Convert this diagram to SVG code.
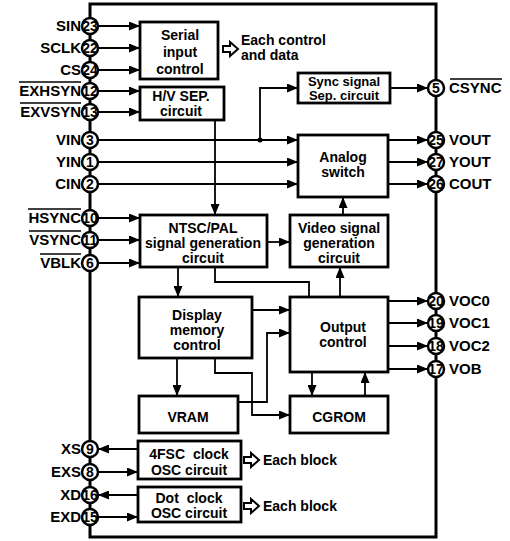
<svg xmlns="http://www.w3.org/2000/svg" width="510" height="541" viewBox="0 0 510 541">
<defs>
<marker id="ah" markerUnits="userSpaceOnUse" markerWidth="12" markerHeight="9" refX="11" refY="4.5" orient="auto">
<path d="M0,0 L11,4.5 L0,9 Z" fill="#000"/>
</marker>
<path id="hollow" d="M0,-3 H7 V-7 L15,0 L7,7 V3 H0 Z"/>
</defs>
<style>
text{font-family:"Liberation Sans",Arial,sans-serif;font-weight:bold;font-size:14px;fill:#000}
.box{fill:#fff;stroke:#000;stroke-width:2.8}
.c{fill:none;stroke:#000;stroke-width:1.8}
.a{marker-end:url(#ah)}
.pin{fill:#fff;stroke:#000;stroke-width:2.5}
.num{font-size:14px;text-anchor:middle}
.m{text-anchor:middle}
.pl{font-size:15px}
.l{text-anchor:end}
.ov{stroke:#000;stroke-width:1.5}
.hol{fill:#fff;stroke:#000;stroke-width:2}
.frame{fill:none;stroke:#000;stroke-width:3}
</style>
<rect class="frame" x="90" y="4" width="346" height="533"/>
<g id="connectors">
<path class="c a" d="M98,26H140"/>
<path class="c a" d="M98,48H140"/>
<path class="c a" d="M98,70H140"/>
<path class="c a" d="M98,91H140"/>
<path class="c a" d="M98,112H140"/>
<path class="c a" d="M215,120V215"/>
<path class="c a" d="M98,140H298"/>
<path class="c a" d="M260,140V88H298"/>
<circle cx="260" cy="140" r="2.5" fill="#000"/>
<path class="c a" d="M98,162H298"/>
<path class="c a" d="M98,184H298"/>
<path class="c a" d="M390,88H428"/>
<path class="c a" d="M388,140H428"/>
<path class="c a" d="M388,162H428"/>
<path class="c a" d="M388,184H428"/>
<path class="c a" d="M343,215V197"/>
<path class="c a" d="M98,218H140"/>
<path class="c a" d="M98,240H140"/>
<path class="c a" d="M98,263H140"/>
<path class="c a" d="M267,242H290"/>
<path class="c a" d="M178,267V297"/>
<path class="c" d="M215,267V282H309V297"/>
<path class="c a" d="M340,297V267"/>
<path class="c a" d="M252,310H290"/>
<path class="c a" d="M177,358V396"/>
<path class="c a" d="M215,358V373H252V415H290"/>
<path class="c a" d="M238,402H267V333H290"/>
<path class="c a" d="M312,372V396"/>
<path class="c a" d="M365,396V372"/>
<path class="c a" d="M388,301H428"/>
<path class="c a" d="M388,323H428"/>
<path class="c a" d="M388,346H428"/>
<path class="c a" d="M388,369H428"/>
<path class="c a" d="M138,449H98"/>
<path class="c a" d="M98,472H138"/>
<path class="c a" d="M138,495H98"/>
<path class="c a" d="M98,517H138"/>
<use href="#hollow" class="hol" x="223" y="49"/>
<use href="#hollow" class="hol" x="244" y="460"/>
<use href="#hollow" class="hol" x="244" y="506"/>
</g>
<g id="serial">
<rect class="box" x="140" y="22" width="78" height="57"/>
<text class="m" x="180" y="40">Serial</text>
<text class="m" x="180" y="57">input</text>
<text class="m" x="180" y="74">control</text>
</g>
<g id="each-control">
<text x="241" y="45">Each control</text>
<text x="241" y="60">and data</text>
</g>
<g id="hvsep">
<rect class="box" x="140" y="87" width="84" height="33"/>
<text class="m" x="181" y="101">H/V SEP.</text>
<text class="m" x="181" y="116">circuit</text>
</g>
<g id="syncsep">
<rect class="box" x="298" y="73" width="92" height="30"/>
<text class="m" x="344" y="86" style="font-size:13px">Sync signal</text>
<text class="m" x="344" y="100" style="font-size:13px">Sep. circuit</text>
</g>
<g id="analog">
<rect class="box" x="298" y="135" width="90" height="62"/>
<text class="m" x="343" y="162">Analog</text>
<text class="m" x="343" y="177">switch</text>
</g>
<g id="ntsc">
<rect class="box" x="140" y="215" width="127" height="52"/>
<text class="m" x="203" y="233">NTSC/PAL</text>
<text class="m" x="203" y="248">signal generation</text>
<text class="m" x="203" y="263">circuit</text>
</g>
<g id="video">
<rect class="box" x="290" y="215" width="98" height="52"/>
<text class="m" x="339" y="233">Video signal</text>
<text class="m" x="339" y="248">generation</text>
<text class="m" x="339" y="263">circuit</text>
</g>
<g id="display">
<rect class="box" x="139" y="297" width="113" height="61"/>
<text class="m" x="197" y="320">Display</text>
<text class="m" x="197" y="335">memory</text>
<text class="m" x="197" y="350">control</text>
</g>
<g id="vram">
<rect class="box" x="139" y="396" width="99" height="37"/>
<text class="m" x="188" y="422">VRAM</text>
</g>
<g id="output">
<rect class="box" x="290" y="297" width="98" height="75"/>
<text class="m" x="343" y="332">Output</text>
<text class="m" x="343" y="347">control</text>
</g>
<g id="cgrom">
<rect class="box" x="290" y="396" width="98" height="37"/>
<text class="m" x="339" y="422">CGROM</text>
</g>
<g id="fsc">
<rect class="box" x="138" y="441" width="103" height="38"/>
<text class="m" x="189" y="459" style="word-spacing:4px">4FSC clock</text>
<text class="m" x="189" y="475">OSC circuit</text>
</g>
<g id="dot">
<rect class="box" x="138" y="487" width="103" height="35"/>
<text class="m" x="189" y="503" style="word-spacing:4px">Dot clock</text>
<text class="m" x="189" y="518">OSC circuit</text>
</g>
<g id="each-block">
<text x="263" y="465">Each block</text>
<text x="263" y="511">Each block</text>
</g>
<g id="pins-left">
<circle class="pin" cx="90" cy="26" r="8"/><text class="num" x="90" y="31">23</text><text class="l pl" x="81" y="31">SIN</text>
<circle class="pin" cx="90" cy="48" r="8"/><text class="num" x="90" y="53">22</text><text class="l pl" x="81" y="53">SCLK</text>
<circle class="pin" cx="90" cy="70" r="8"/><text class="num" x="90" y="75">24</text><text class="l pl" x="81" y="75">CS</text>
<circle class="pin" cx="90" cy="91" r="8"/><text class="num" x="90" y="96">12</text><text class="l pl" x="81" y="96">EXHSYN</text>
<line class="ov" x1="19" y1="82" x2="81" y2="82"/>
<circle class="pin" cx="90" cy="112" r="8"/><text class="num" x="90" y="117">13</text><text class="l pl" x="81" y="117">EXVSYN</text>
<line class="ov" x1="20" y1="103" x2="81" y2="103"/>
<circle class="pin" cx="90" cy="140" r="8"/><text class="num" x="90" y="145">3</text><text class="l pl" x="81" y="145">VIN</text>
<circle class="pin" cx="90" cy="162" r="8"/><text class="num" x="90" y="167">1</text><text class="l pl" x="81" y="167">YIN</text>
<circle class="pin" cx="90" cy="184" r="8"/><text class="num" x="90" y="189">2</text><text class="l pl" x="81" y="189">CIN</text>
<circle class="pin" cx="90" cy="218" r="8"/><text class="num" x="90" y="223">10</text><text class="l pl" x="81" y="223">HSYNC</text>
<line class="ov" x1="28" y1="209" x2="81" y2="209"/>
<circle class="pin" cx="90" cy="240" r="8"/><text class="num" x="90" y="245">11</text><text class="l pl" x="81" y="245">VSYNC</text>
<line class="ov" x1="29" y1="231" x2="81" y2="231"/>
<circle class="pin" cx="90" cy="263" r="8"/><text class="num" x="90" y="268">6</text><text class="l pl" x="81" y="268">VBLK</text>
<line class="ov" x1="40" y1="254" x2="81" y2="254"/>
<circle class="pin" cx="90" cy="449" r="8"/><text class="num" x="90" y="454">9</text><text class="l pl" x="81" y="454">XS</text>
<circle class="pin" cx="90" cy="472" r="8"/><text class="num" x="90" y="477">8</text><text class="l pl" x="81" y="477">EXS</text>
<circle class="pin" cx="90" cy="495" r="8"/><text class="num" x="90" y="500">16</text><text class="l pl" x="81" y="500">XD</text>
<circle class="pin" cx="90" cy="517" r="8"/><text class="num" x="90" y="522">15</text><text class="l pl" x="81" y="522">EXD</text>
</g>
<g id="pins-right">
<circle class="pin" cx="436" cy="88" r="8"/><text class="num" x="436" y="93">5</text><text class="pl" x="449" y="93">CSYNC</text>
<line class="ov" x1="450" y1="79" x2="502" y2="79"/>
<circle class="pin" cx="436" cy="140" r="8"/><text class="num" x="436" y="145">25</text><text class="pl" x="449" y="145">VOUT</text>
<circle class="pin" cx="436" cy="162" r="8"/><text class="num" x="436" y="167">27</text><text class="pl" x="449" y="167">YOUT</text>
<circle class="pin" cx="436" cy="184" r="8"/><text class="num" x="436" y="189">26</text><text class="pl" x="449" y="189">COUT</text>
<circle class="pin" cx="436" cy="301" r="8"/><text class="num" x="436" y="306">20</text><text class="pl" x="449" y="306">VOC0</text>
<circle class="pin" cx="436" cy="323" r="8"/><text class="num" x="436" y="328">19</text><text class="pl" x="449" y="328">VOC1</text>
<circle class="pin" cx="436" cy="346" r="8"/><text class="num" x="436" y="351">18</text><text class="pl" x="449" y="351">VOC2</text>
<circle class="pin" cx="436" cy="369" r="8"/><text class="num" x="436" y="374">17</text><text class="pl" x="449" y="374">VOB</text>
</g>
</svg>
